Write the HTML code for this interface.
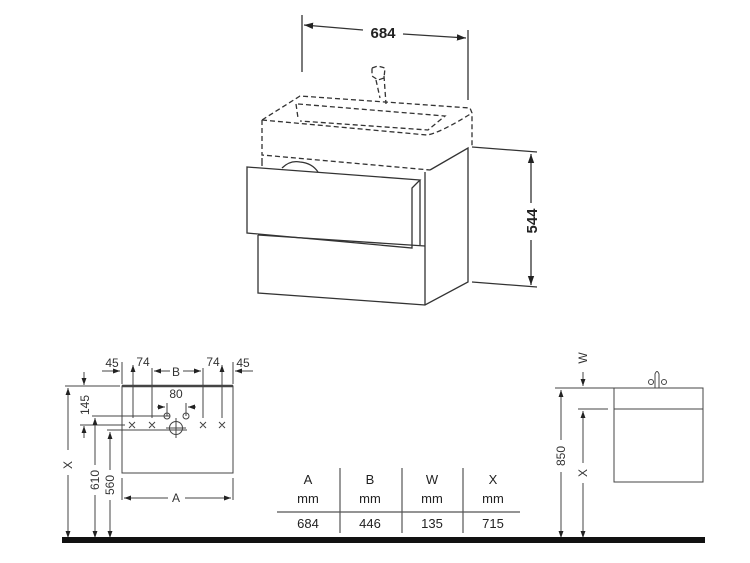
<!DOCTYPE html>
<html><head><style>body{margin:0;background:#fff}svg{display:block}text{font-family:"Liberation Sans",sans-serif}</style></head><body>
<svg width="750" height="563" viewBox="0 0 750 563" xmlns="http://www.w3.org/2000/svg">
<defs><marker id="a" viewBox="0 0 10 10" refX="10" refY="5" markerWidth="7" markerHeight="7" orient="auto-start-reverse"><path d="M0,1.5L10,5L0,8.5z" fill="#222"/></marker></defs>
<g stroke="#333" fill="none" stroke-width="1.3">
<line x1="302" y1="15" x2="302" y2="72"/><line x1="468" y1="30" x2="468" y2="100"/>
<line x1="304" y1="25" x2="363" y2="30" marker-start="url(#a)"/><line x1="403" y1="34" x2="466" y2="38" marker-end="url(#a)"/>
<g stroke-dasharray="5,3">
<path d="M262,120 L300,96 L470,108 L472,113 L472,148"/>
<path d="M262,120 L262,155 L430,170"/>
<path d="M262,120 L427,135 Q440,133 472,113"/>
<path d="M296,104 L298,118 M298,104 L445,116 L428,130 L300,121"/>
<path d="M372,68 L378,66 L385,68 L384,78 L378,80 L372,76 Z M376,80 L380,98 M384,76 L386,104"/>
</g>
<path d="M430,170 L468,148 L468,282 L425,305 L258,293 L258,235"/>
<line x1="425" y1="172" x2="425" y2="305"/>
<line x1="258" y1="235" x2="425" y2="246"/>
<line x1="262" y1="158" x2="262" y2="166"/>
<path d="M247,167 L420,180 L412,188 L412,248 L247,233 Z"/>
<line x1="420" y1="180" x2="420" y2="245"/>
<path d="M282,168 Q290,160 300,162 Q312,163 318,172"/>
<line x1="472" y1="147" x2="537" y2="152"/><line x1="472" y1="282" x2="537" y2="287"/>
<line x1="531" y1="154" x2="531" y2="203" marker-start="url(#a)"/><line x1="531" y1="240" x2="531" y2="285" marker-end="url(#a)"/>
</g>
<text x="383" y="38" font-size="15" font-weight="bold" text-anchor="middle" fill="#222">684</text>
<text transform="translate(537,221) rotate(-90)" font-size="15" font-weight="bold" text-anchor="middle" fill="#222">544</text>
<g stroke="#444" fill="none" stroke-width="1">
<rect x="122" y="386" width="111" height="87"/>
<line x1="122" y1="386" x2="233" y2="386" stroke-width="2.5"/>
<line x1="65" y1="386" x2="120" y2="386"/>
<line x1="68" y1="388" x2="68" y2="450" marker-start="url(#a)"/><line x1="68" y1="475" x2="68" y2="538" marker-end="url(#a)"/>
<line x1="84" y1="372" x2="84" y2="385" marker-end="url(#a)"/><line x1="84" y1="438" x2="84" y2="426" marker-end="url(#a)"/>
<line x1="80" y1="425" x2="125" y2="425"/>
<line x1="92" y1="416" x2="170" y2="416"/><line x1="95" y1="418" x2="95" y2="465" marker-start="url(#a)"/><line x1="95" y1="495" x2="95" y2="538" marker-end="url(#a)"/>
<line x1="107" y1="430" x2="187" y2="430"/><line x1="110" y1="432" x2="110" y2="470" marker-start="url(#a)"/><line x1="110" y1="500" x2="110" y2="538" marker-end="url(#a)"/>
<line x1="122" y1="362" x2="122" y2="384"/><line x1="233" y1="362" x2="233" y2="384"/>
<line x1="133" y1="365" x2="133" y2="418" marker-start="url(#a)"/><line x1="152" y1="368" x2="152" y2="418"/>
<line x1="203" y1="368" x2="203" y2="418"/><line x1="222" y1="365" x2="222" y2="418" marker-start="url(#a)"/>
<line x1="102" y1="371" x2="120" y2="371" marker-end="url(#a)"/><line x1="253" y1="371" x2="235" y2="371" marker-end="url(#a)"/>
<line x1="154" y1="371" x2="170" y2="371" marker-start="url(#a)"/><line x1="183" y1="371" x2="201" y2="371" marker-end="url(#a)"/>
<line x1="157" y1="407" x2="165" y2="407" marker-end="url(#a)"/><line x1="196" y1="407" x2="188" y2="407" marker-end="url(#a)"/>
<line x1="167" y1="403" x2="167" y2="416"/><line x1="186" y1="403" x2="186" y2="416"/>
<line x1="122" y1="478" x2="122" y2="500"/><line x1="233" y1="478" x2="233" y2="500"/>
<line x1="124" y1="498" x2="168" y2="498" marker-start="url(#a)"/><line x1="185" y1="498" x2="231" y2="498" marker-end="url(#a)"/>
<circle cx="167" cy="416" r="3"/><circle cx="186" cy="416" r="3"/>
<circle cx="176" cy="428" r="6.5"/><line x1="166" y1="428" x2="186" y2="428"/><line x1="176" y1="418" x2="176" y2="438"/>
<path d="M129,422l6,6m0,-6l-6,6M149,422l6,6m0,-6l-6,6M200,422l6,6m0,-6l-6,6M219,422l6,6m0,-6l-6,6"/>
</g>
<g font-size="12" fill="#333" text-anchor="middle">
<text x="112" y="367">45</text><text x="143" y="366">74</text><text x="176" y="376">B</text><text x="213" y="366">74</text><text x="243" y="367">45</text>
<text x="176" y="398">80</text><text x="176" y="502">A</text>
<text transform="translate(72,465) rotate(-90)">X</text>
<text transform="translate(89,405) rotate(-90)">145</text>
<text transform="translate(99,480) rotate(-90)">610</text>
<text transform="translate(114,485) rotate(-90)">560</text>
</g>
<g stroke="#555" stroke-width="1.2"><line x1="340" y1="468" x2="340" y2="533"/><line x1="402" y1="468" x2="402" y2="533"/><line x1="463" y1="468" x2="463" y2="533"/><line x1="277" y1="512" x2="520" y2="512"/></g>
<g font-size="13" fill="#222" text-anchor="middle">
<text x="308" y="484">A</text><text x="370" y="484">B</text><text x="432" y="484">W</text><text x="493" y="484">X</text>
<text x="308" y="503">mm</text><text x="370" y="503">mm</text><text x="432" y="503">mm</text><text x="493" y="503">mm</text>
<text x="308" y="528">684</text><text x="370" y="528">446</text><text x="432" y="528">135</text><text x="493" y="528">715</text>
</g>
<g stroke="#444" fill="none" stroke-width="1">
<rect x="614" y="388" width="89" height="94"/><line x1="614" y1="409" x2="703" y2="409"/>
<line x1="555" y1="388" x2="618" y2="388"/><line x1="578" y1="409" x2="608" y2="409"/>
<line x1="561" y1="390" x2="561" y2="440" marker-start="url(#a)"/><line x1="561" y1="472" x2="561" y2="538" marker-end="url(#a)"/>
<line x1="583" y1="411" x2="583" y2="463" marker-start="url(#a)"/><line x1="583" y1="483" x2="583" y2="538" marker-end="url(#a)"/>
<line x1="583" y1="372" x2="583" y2="386" marker-end="url(#a)"/>
<path d="M655,388 L655,374 Q657,369 659,374 L659,388"/><circle cx="651" cy="382" r="2.5"/><circle cx="664" cy="382" r="2.5"/>
</g>
<g font-size="12" fill="#333" text-anchor="middle">
<text transform="translate(565,456) rotate(-90)">850</text>
<text transform="translate(587,473) rotate(-90)">X</text>
<text transform="translate(587,358) rotate(-90)">W</text>
</g>
<rect x="62" y="537" width="643" height="6" fill="#111"/>
</svg>
</body></html>
